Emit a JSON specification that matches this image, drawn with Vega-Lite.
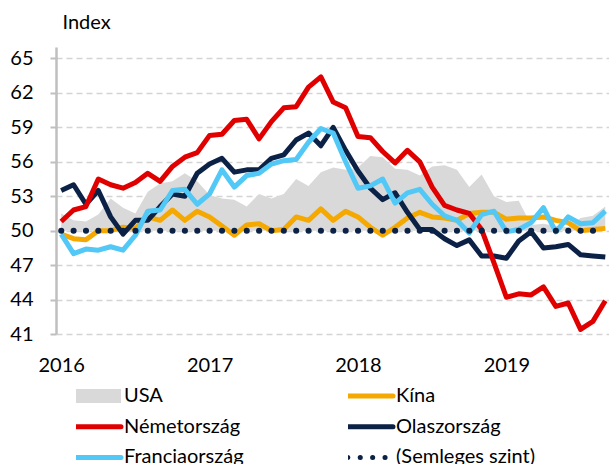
{
  "$schema": "https://vega.github.io/schema/vega-lite/v6.json",
  "autosize": "none",
  "width": 553,
  "height": 287,
  "padding": {"left": 56, "top": 47, "right": 0, "bottom": 130},
  "background": "white",
  "config": {
    "view": {"stroke": null},
    "font": "Lato",
    "axis": {"labelFont": "Lato", "labelFontSize": 20, "labelColor": "#000000", "titleFont": "Lato", "titleFontWeight": "normal", "labelOverlap": false}
  },
  "datasets": {
    "pmi": [
      {"i": 0, "USA": 51.5, "Kína": 49.7, "Németország": 50.8, "Olaszország": 53.5, "Franciaország": 49.7},
      {"i": 1, "USA": 50.9, "Kína": 49.3, "Németország": 51.8, "Olaszország": 54.0, "Franciaország": 48.0},
      {"i": 2, "USA": 50.8, "Kína": 49.2, "Németország": 52.1, "Olaszország": 52.3, "Franciaország": 48.4},
      {"i": 3, "USA": 51.4, "Kína": 50.0, "Németország": 54.5, "Olaszország": 53.5, "Franciaország": 48.3},
      {"i": 4, "USA": 52.8, "Kína": 50.0, "Németország": 54.0, "Olaszország": 51.2, "Franciaország": 48.6},
      {"i": 5, "USA": 52.0, "Kína": 50.3, "Németország": 53.7, "Olaszország": 49.7, "Franciaország": 48.3},
      {"i": 6, "USA": 51.5, "Kína": 50.2, "Németország": 54.2, "Olaszország": 50.9, "Franciaország": 49.6},
      {"i": 7, "USA": 53.4, "Kína": 51.2, "Németország": 55.0, "Olaszország": 50.9, "Franciaország": 51.7},
      {"i": 8, "USA": 54.1, "Kína": 50.9, "Németország": 54.3, "Olaszország": 52.1, "Franciaország": 51.8},
      {"i": 9, "USA": 54.3, "Kína": 51.8, "Németország": 55.6, "Olaszország": 53.2, "Franciaország": 53.5},
      {"i": 10, "USA": 55.0, "Kína": 50.9, "Németország": 56.4, "Olaszország": 53.0, "Franciaország": 53.6},
      {"i": 11, "USA": 54.3, "Kína": 51.7, "Németország": 56.8, "Olaszország": 55.0, "Franciaország": 52.3},
      {"i": 12, "USA": 53.1, "Kína": 51.2, "Németország": 58.3, "Olaszország": 55.8, "Franciaország": 53.2},
      {"i": 13, "USA": 52.8, "Kína": 50.4, "Németország": 58.4, "Olaszország": 56.3, "Franciaország": 55.3},
      {"i": 14, "USA": 52.7, "Kína": 49.6, "Németország": 59.6, "Olaszország": 55.1, "Franciaország": 53.8},
      {"i": 15, "USA": 52.1, "Kína": 50.5, "Németország": 59.7, "Olaszország": 55.3, "Franciaország": 54.8},
      {"i": 16, "USA": 53.2, "Kína": 50.6, "Németország": 58.0, "Olaszország": 55.3, "Franciaország": 55.0},
      {"i": 17, "USA": 52.8, "Kína": 50.0, "Németország": 59.5, "Olaszország": 56.3, "Franciaország": 55.8},
      {"i": 18, "USA": 53.2, "Kína": 50.1, "Németország": 60.7, "Olaszország": 56.6, "Franciaország": 56.1},
      {"i": 19, "USA": 54.5, "Kína": 51.2, "Németország": 60.8, "Olaszország": 57.9, "Franciaország": 56.2},
      {"i": 20, "USA": 53.9, "Kína": 50.9, "Németország": 62.5, "Olaszország": 58.5, "Franciaország": 57.7},
      {"i": 21, "USA": 55.1, "Kína": 51.9, "Németország": 63.4, "Olaszország": 57.4, "Franciaország": 58.9},
      {"i": 22, "USA": 55.5, "Kína": 50.9, "Németország": 61.2, "Olaszország": 59.0, "Franciaország": 58.5},
      {"i": 23, "USA": 55.3, "Kína": 51.7, "Németország": 60.7, "Olaszország": 57.0, "Franciaország": 56.0},
      {"i": 24, "USA": 55.5, "Kína": 51.2, "Németország": 58.2, "Olaszország": 55.2, "Franciaország": 53.7},
      {"i": 25, "USA": 56.5, "Kína": 50.3, "Németország": 58.1, "Olaszország": 53.7, "Franciaország": 53.9},
      {"i": 26, "USA": 56.4, "Kína": 49.6, "Németország": 56.9, "Olaszország": 52.7, "Franciaország": 54.5},
      {"i": 27, "USA": 55.4, "Kína": 50.3, "Németország": 55.9, "Olaszország": 53.3, "Franciaország": 52.4},
      {"i": 28, "USA": 55.3, "Kína": 51.1, "Németország": 57.0, "Olaszország": 51.6, "Franciaország": 53.3},
      {"i": 29, "USA": 54.8, "Kína": 51.6, "Németország": 56.0, "Olaszország": 50.1, "Franciaország": 53.6},
      {"i": 30, "USA": 55.6, "Kína": 51.2, "Németország": 53.8, "Olaszország": 50.1, "Franciaország": 52.3},
      {"i": 31, "USA": 55.7, "Kína": 51.1, "Németország": 52.2, "Olaszország": 49.3, "Franciaország": 51.3},
      {"i": 32, "USA": 55.3, "Kína": 50.9, "Németország": 51.8, "Olaszország": 48.7, "Franciaország": 50.9},
      {"i": 33, "USA": 53.8, "Kína": 51.5, "Németország": 51.5, "Olaszország": 49.2, "Franciaország": 49.8},
      {"i": 34, "USA": 54.9, "Kína": 51.6, "Németország": 50.1, "Olaszország": 47.8, "Franciaország": 51.4},
      {"i": 35, "USA": 53.0, "Kína": 51.6, "Németország": 47.2, "Olaszország": 47.8, "Franciaország": 51.7},
      {"i": 36, "USA": 52.5, "Kína": 51.0, "Németország": 44.2, "Olaszország": 47.6, "Franciaország": 49.9},
      {"i": 37, "USA": 52.6, "Kína": 51.1, "Németország": 44.5, "Olaszország": 49.1, "Franciaország": 50.1},
      {"i": 38, "USA": 50.5, "Kína": 51.1, "Németország": 44.4, "Olaszország": 49.9, "Franciaország": 50.7},
      {"i": 39, "USA": 50.6, "Kína": 51.2, "Németország": 45.1, "Olaszország": 48.5, "Franciaország": 52.0},
      {"i": 40, "USA": 50.4, "Kína": 50.9, "Németország": 43.4, "Olaszország": 48.6, "Franciaország": 49.9},
      {"i": 41, "USA": 50.3, "Kína": 50.7, "Németország": 43.7, "Olaszország": 48.8, "Franciaország": 51.2},
      {"i": 42, "USA": 51.1, "Kína": 50.0, "Németország": 41.4, "Olaszország": 47.9, "Franciaország": 50.6},
      {"i": 43, "USA": 51.3, "Kína": 50.1, "Németország": 42.1, "Olaszország": 47.8, "Franciaország": 50.7},
      {"i": 44, "USA": 52.1, "Kína": 50.2, "Németország": 43.9, "Olaszország": 47.7, "Franciaország": 51.7}
    ],
    "neutral": [
      {"i": 0, "series": "(Semleges szint)", "v": 50},
      {"i": 44, "series": "(Semleges szint)", "v": 50}
    ]
  },
  "layer": [
    {
      "data": {"name": "pmi"},
      "transform": [{"fold": ["USA"], "as": ["series", "v"]}],
      "mark": {"type": "area", "opacity": 1, "interpolate": "linear"},
      "encoding": {
        "x": {"field": "i", "type": "quantitative",
              "scale": {"domain": [-0.42, 44.3], "nice": false, "zero": false},
              "axis": {"values": [0, 12, 24, 36], "tickCount": 10, "labelExpr": "'' + (2016 + datum.value / 12)", "domain": false, "ticks": false, "tickSize": 0, "grid": false, "labelPadding": 21, "title": null, "labelFlush": false}},
        "y": {"field": "v", "type": "quantitative",
              "scale": {"domain": [41, 66], "nice": false, "zero": false},
              "axis": {"values": [41, 44, 47, 50, 53, 56, 59, 62, 65], "tickCount": 20, "labelOverlap": false, "grid": true, "gridDash": [6, 4], "gridColor": "#d4d4d4", "gridWidth": 1.5,
                       "domainColor": "#bfbfbf", "domainWidth": 2.5, "tickColor": "#bfbfbf", "tickSize": 6, "tickWidth": 2, "labelPadding": 17,
                       "title": "Index", "titleAngle": 0, "titleX": 6, "titleY": -25, "titleAlign": "left", "titleBaseline": "middle", "titleFontSize": 20, "titleColor": "#000000"}},
        "y2": {"datum": 50},
        "color": {"field": "series", "type": "nominal",
                  "scale": {"domain": ["USA", "Németország", "Franciaország", "Kína", "Olaszország", "(Semleges szint)"],
                            "range": ["#d9d9d9", "#e00000", "#52c8f7", "#f5a800", "#0c2146", "#0c2146"]},
                  "legend": {"orient": "none", "legendX": 20, "legendY": 339, "columns": 2, "columnPadding": 104, "rowPadding": 10.7, "clipHeight": 20,
                             "title": null, "symbolType": "stroke", "symbolSize": 4900, "symbolStrokeWidth": 5, "symbolOpacity": 1,
                             "labelFont": "Lato", "labelFontSize": 20, "labelColor": "#000000", "labelOffset": 28, "labelLimit": 300,
                             "encode": {"symbols": {"update": {
                               "shape": {"signal": "datum.value === 'USA' ? 'M-1,-0.2H1V0.2H-1Z' : 'stroke'"},
                               "fill": {"signal": "datum.value === 'USA' ? '#d9d9d9' : 'transparent'"},
                               "strokeWidth": {"signal": "datum.value === 'USA' ? 0 : 5"},
                               "strokeCap": {"value": "round"},
                               "strokeDash": {"signal": "datum.value === '(Semleges szint)' ? [0.1, 12.3] : [1, 0]"},
                               "opacity": {"value": 1}
                             }}}}}
      }
    },
    {
      "data": {"name": "pmi"},
      "transform": [{"fold": ["Kína", "Olaszország", "Németország", "Franciaország"], "as": ["series", "v"]}],
      "mark": {"type": "line", "strokeWidth": 5, "strokeJoin": "round"},
      "encoding": {
        "x": {"field": "i", "type": "quantitative"},
        "y": {"field": "v", "type": "quantitative"},
        "color": {"field": "series", "type": "nominal"}
      }
    },
    {
      "data": {"name": "neutral"},
      "mark": {"type": "line", "strokeWidth": 6, "strokeCap": "round", "strokeDash": [0.1, 12.266]},
      "encoding": {
        "x": {"field": "i", "type": "quantitative"},
        "y": {"field": "v", "type": "quantitative"},
        "color": {"field": "series", "type": "nominal"}
      }
    }
  ]
}
